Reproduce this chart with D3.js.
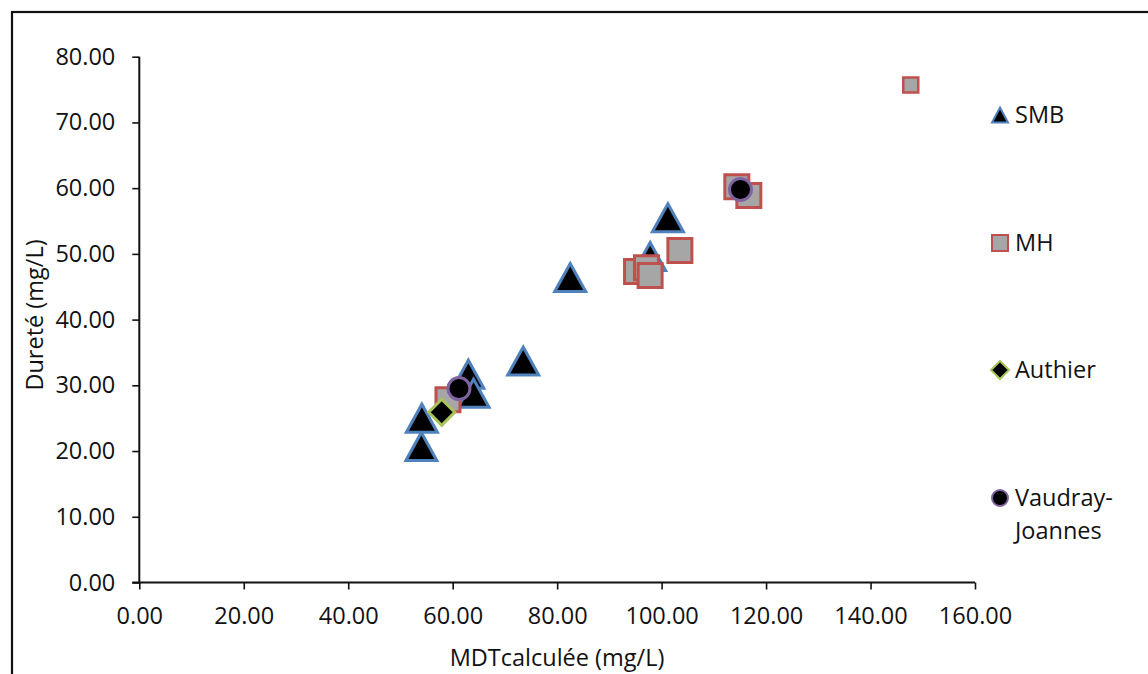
<!DOCTYPE html>
<html>
<head>
<meta charset="utf-8">
<script src="https://cdn.jsdelivr.net/npm/d3@7"></script>
<style>
  html, body { margin: 0; padding: 0; background: #fff; }
  svg { display: block; }
  text { font-family: "Open Sans", "Noto Sans", sans-serif; fill: #111; }
</style>
</head>
<body>
<svg id="chart" width="1148" height="674"></svg>
<script>
// ---- Data ----
const seriesNames = ["SMB", "MH", "Authier", "Vaudray-Joannes"];
const smbX = [54.0, 54.1, 63.0, 64.0, 73.5, 82.5, 97.8, 101.2];
const smbY = [20.7, 25.0, 31.7, 28.8, 33.7, 46.4, 49.6, 55.5];
const mhX = [59.1, 95.2, 97.1, 97.8, 103.5, 114.4, 116.7];
const mhY = [27.8, 47.3, 47.9, 46.7, 50.5, 60.2, 58.9];
const mhOutlierX = [147.7];
const mhOutlierY = [75.7];
const authierX = [57.9];
const authierY = [25.9];
const vaudrayX = [61.2, 115.1];
const vaudrayY = [29.5, 59.8];
const xTicks = [0, 20, 40, 60, 80, 100, 120, 140, 160];
const yTicks = [0, 10, 20, 30, 40, 50, 60, 70, 80];
const xTitle = "MDTcalculée (mg/L)";
const yTitle = "Dureté (mg/L)";

// ---- Layout ----
const svg = d3.select("#chart");
const L = 139.3, R = 975, T = 56.7, B = 582.5;
const x = d3.scaleLinear().domain([0, 160]).range([L, R]);
const y = d3.scaleLinear().domain([0, 80]).range([B, T]);
const FS = 23.5;

// outer frame
svg.append("rect").attr("x", 12).attr("y", 12).attr("width", 1160).attr("height", 700)
  .attr("fill", "none").attr("stroke", "#111").attr("stroke-width", 2.2);

// axes
const xAxis = svg.append("g").attr("transform", `translate(0,${B})`)
  .call(d3.axisBottom(x).tickValues(xTicks).tickFormat(d3.format(".2f")).tickSize(7).tickSizeOuter(0).tickPadding(18));
const yAxis = svg.append("g").attr("transform", `translate(${L},0)`)
  .call(d3.axisLeft(y).tickValues(yTicks).tickFormat(d3.format(".2f")).tickSize(7).tickSizeOuter(0).tickPadding(17));
[xAxis, yAxis].forEach(g => {
  g.select(".domain").attr("stroke", "#111").attr("stroke-width", 2);
  g.selectAll(".tick line").attr("stroke", "#111").attr("stroke-width", 1.6);
  g.selectAll(".tick text").attr("font-size", FS).attr("font-family", "Open Sans, Noto Sans, sans-serif").attr("fill", "#111");
});
yAxis.select(".domain").attr("d", `M0,${B + 1}V${T}`);
xAxis.select(".domain").attr("d", `M${L - 7},0H${R}`);

// titles
svg.append("text").attr("x", 557).attr("y", 666).attr("text-anchor", "middle")
  .attr("font-size", FS).text(xTitle);
svg.append("text").attr("transform", `translate(43,${315}) rotate(-90)`).attr("text-anchor", "middle")
  .attr("font-size", FS).text(yTitle);

// ---- Marker shapes ----
function triPath(w, h) { return `M0,${-h / 2}L${w / 2},${h / 2}L${-w / 2},${h / 2}Z`; }
function sqPath(s) { return `M${-s / 2},${-s / 2}h${s}v${s}h${-s}Z`; }
function diaPath(r) { return `M0,${-r}L${r},0L0,${r}L${-r},0Z`; }
function circPath(r) { return d3.arc()({ innerRadius: 0, outerRadius: r, startAngle: 0, endAngle: 2 * Math.PI }); }

const styles = {
  SMB: { fill: "#000", stroke: "#4F81BD", sw: 3, path: triPath(31, 28), legendPath: triPath(16, 15), lsw: 2 },
  MH: { fill: "#A6A6A6", stroke: "#C0504D", sw: 3, path: sqPath(24), legendPath: sqPath(16), lsw: 2 },
  MHsmall: { fill: "#A6A6A6", stroke: "#C0504D", sw: 2.5, path: sqPath(15) },
  Authier: { fill: "#000", stroke: "#A9C45A", sw: 3, path: diaPath(13), legendPath: diaPath(9), lsw: 2 },
  Vaudray: { fill: "#000", stroke: "#8064A2", sw: 3, path: circPath(11), legendPath: circPath(8), lsw: 2 }
};

function plot(xs, ys, st) {
  svg.append("g").selectAll("path").data(xs.map((v, i) => [v, ys[i]])).join("path")
    .attr("transform", d => `translate(${x(d[0])},${y(d[1])})`)
    .attr("d", st.path).attr("fill", st.fill).attr("stroke", st.stroke)
    .attr("stroke-width", st.sw).attr("stroke-linejoin", "miter");
}
plot(smbX, smbY, styles.SMB);
plot(mhX, mhY, styles.MH);
plot(mhOutlierX, mhOutlierY, styles.MHsmall);
plot(authierX, authierY, styles.Authier);
plot(vaudrayX, vaudrayY, styles.Vaudray);

// ---- Legend ----
const legendKeys = [styles.SMB, styles.MH, styles.Authier, styles.Vaudray];
const legendY = [115, 243, 370, 498];
const lg = svg.append("g");
seriesNames.forEach((name, i) => {
  const st = legendKeys[i];
  lg.append("path").attr("transform", `translate(1000,${legendY[i]})`)
    .attr("d", st.legendPath).attr("fill", st.fill).attr("stroke", st.stroke).attr("stroke-width", st.lsw);
  const t = lg.append("text").attr("x", 1015).attr("y", legendY[i] + 8).attr("font-size", FS);
  if (name.includes("-")) {
    const parts = name.split("-");
    t.append("tspan").attr("x", 1015).text(parts[0] + "-");
    t.append("tspan").attr("x", 1015).attr("dy", 33).text(parts[1]);
  } else {
    t.text(name);
  }
});
</script>
</body>
</html>
